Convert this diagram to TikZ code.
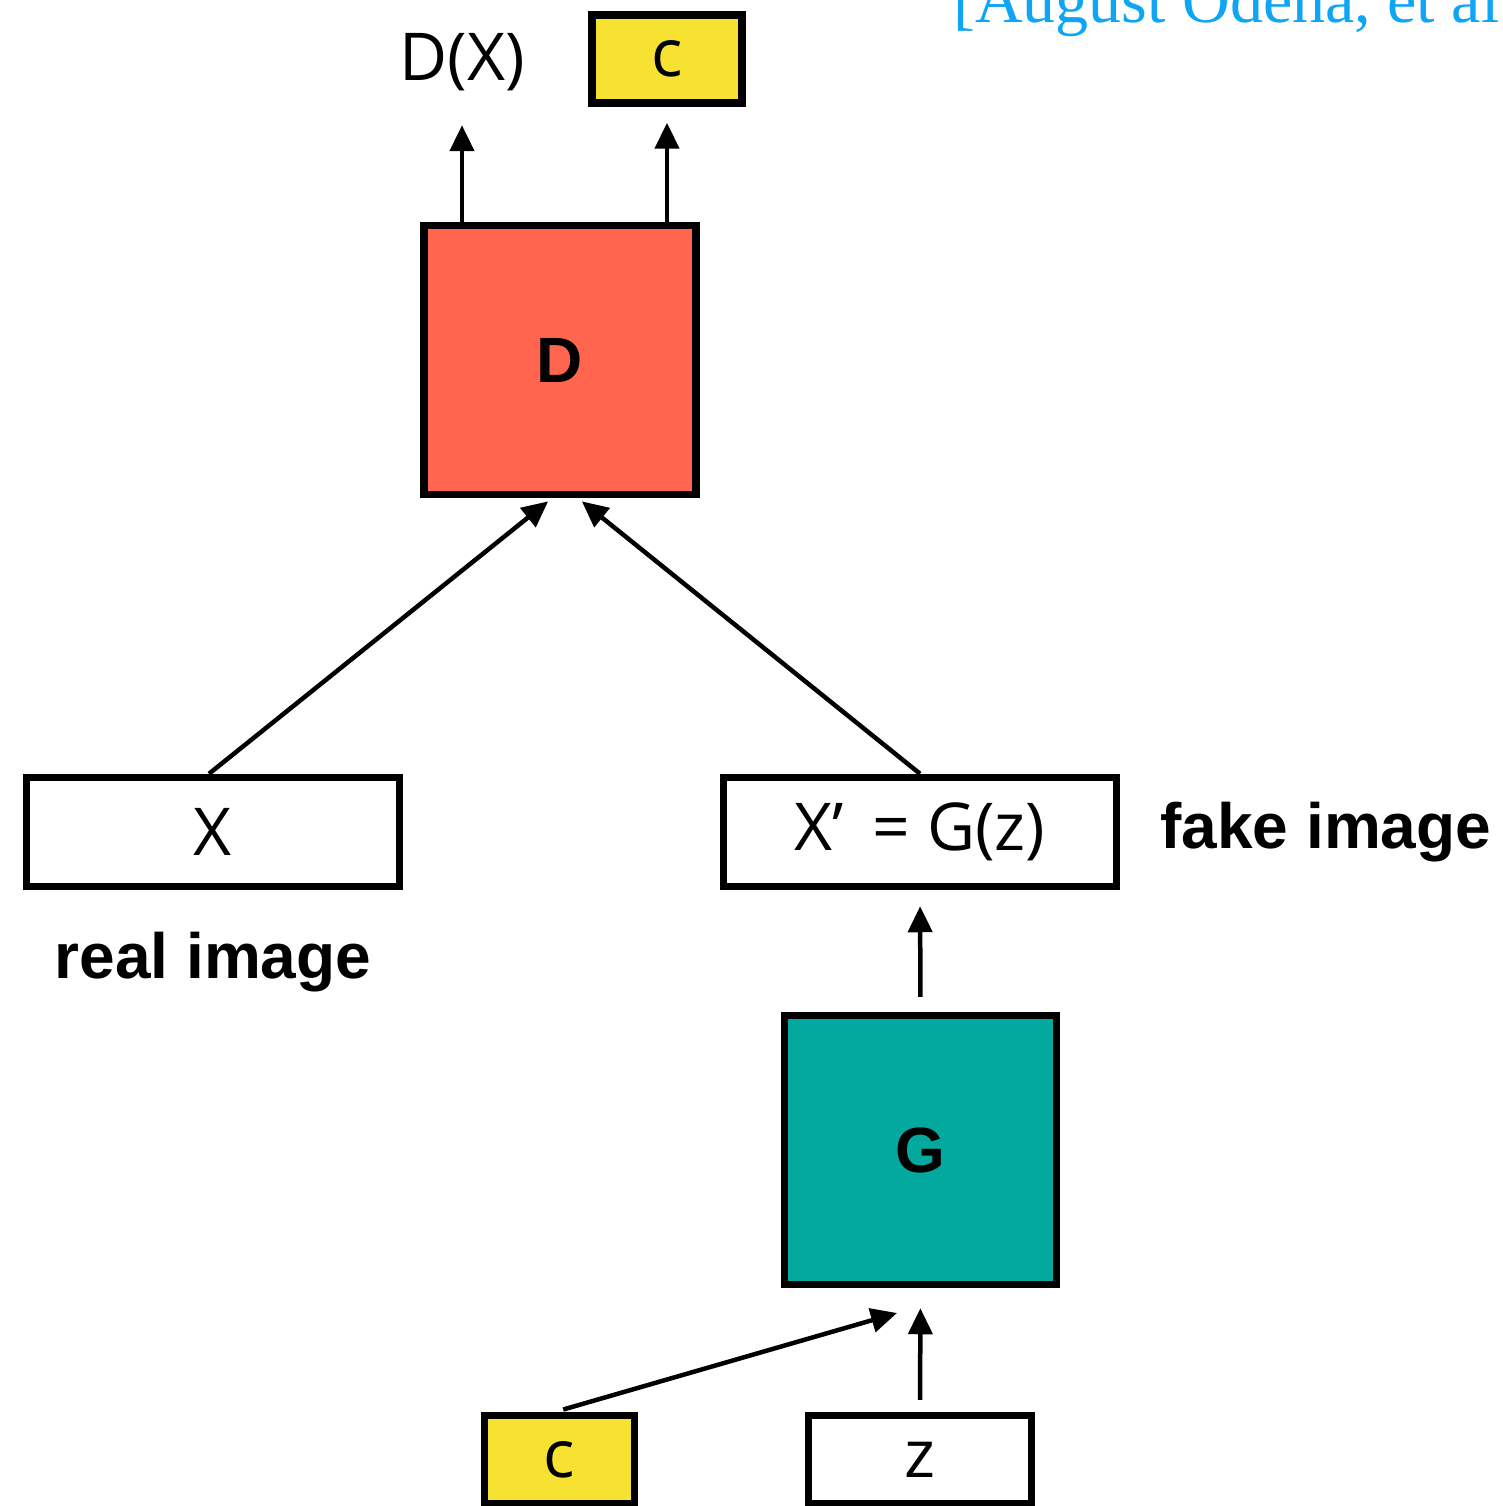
\documentclass[tikz,border=0pt]{standalone}
\usepackage{fontspec}
\setmainfont{Open Sans}
\newfontfamily\labelfont{Liberation Sans}
\newfontfamily\citefont{Liberation Serif}
\usetikzlibrary{arrows.meta, positioning}
\definecolor{dcolor}{HTML}{FF654F}
\definecolor{gcolor}{HTML}{03A89E}
\definecolor{ccolor}{HTML}{F8E231}
\definecolor{citecolor}{HTML}{0EA5F5}

\begin{document}
\begin{tikzpicture}[x=1pt, y=-1pt,
    box/.style={rectangle, draw=black, line width=7.5pt, fill=white, inner sep=0pt,
                font=\fontsize{66}{72}\selectfont},
    net/.style={box, minimum width=272pt, minimum height=269pt,
                font=\labelfont\bfseries\fontsize{64}{72}\selectfont},
    cbox/.style={box, fill=ccolor, minimum width=150pt, minimum height=88pt},
    tag/.style={inner sep=0pt, font=\labelfont\bfseries\fontsize{64}{72}\selectfont},
    arrow/.style={-{Triangle[length=26pt, width=24pt]}, line width=4.5pt},
    node distance=40pt
]
    \useasboundingbox (0,0) rectangle (1503,1506);
    \clip (0,0) rectangle (1503,1506);

    % discriminator side
    \node[net, fill=dcolor] (D) at (560,360) {D};
    \node[cbox] (ctop) at (667,59) {c};
    \node[inner sep=0pt, minimum height=88pt, font=\fontsize{66}{72}\selectfont] (DX) at (462,62) {D(X)};

    % images
    \node[box, minimum width=373pt, minimum height=109pt] (X) at (213,832) {X};
    \node[box, minimum width=393pt, minimum height=109pt] (Xp) at (920,832) {X’\, = G(z)};
    \node[tag, right=40pt of Xp] (fake) {fake image};
    \node[tag, below=42pt of X] (real) {real image};

    % generator side
    \node[net, fill=gcolor] (G) at (920.5,1150) {G};
    \node[cbox] (cbot) at (559.5,1459.5) {c};
    \node[box, minimum width=223pt, minimum height=88pt] (z) at (920,1459.5) {z};
    \coordinate (Gin) at (897,1313);

    \draw[arrow, shorten >=19pt] (D.north -| DX) -- (DX.south);
    \draw[arrow, shorten >=16pt] (D.north -| ctop) -- (ctop.south);
    \draw[arrow, shorten >=5pt] ([xshift=-4pt]X.north) -- ([xshift=-8pt]D.south);
    \draw[arrow, shorten >=5pt] (Xp.north) -- ([xshift=18pt]D.south);
    \draw[arrow, shorten <=15pt, shorten >=16pt] (G.north) -- (Xp.south);
    \draw[arrow, shorten <=12pt, shorten >=20pt] (z.north) -- (G.south);
    \draw[arrow, shorten <=8pt] ([xshift=-4pt]cbot.north) -- (Gin);

    \node[anchor=base west, inner sep=0pt, text=citecolor,
          font=\citefont\fontsize{66}{72}\selectfont] (cite) at (953,23) {[August Odena, et al};
\end{tikzpicture}
\end{document}
